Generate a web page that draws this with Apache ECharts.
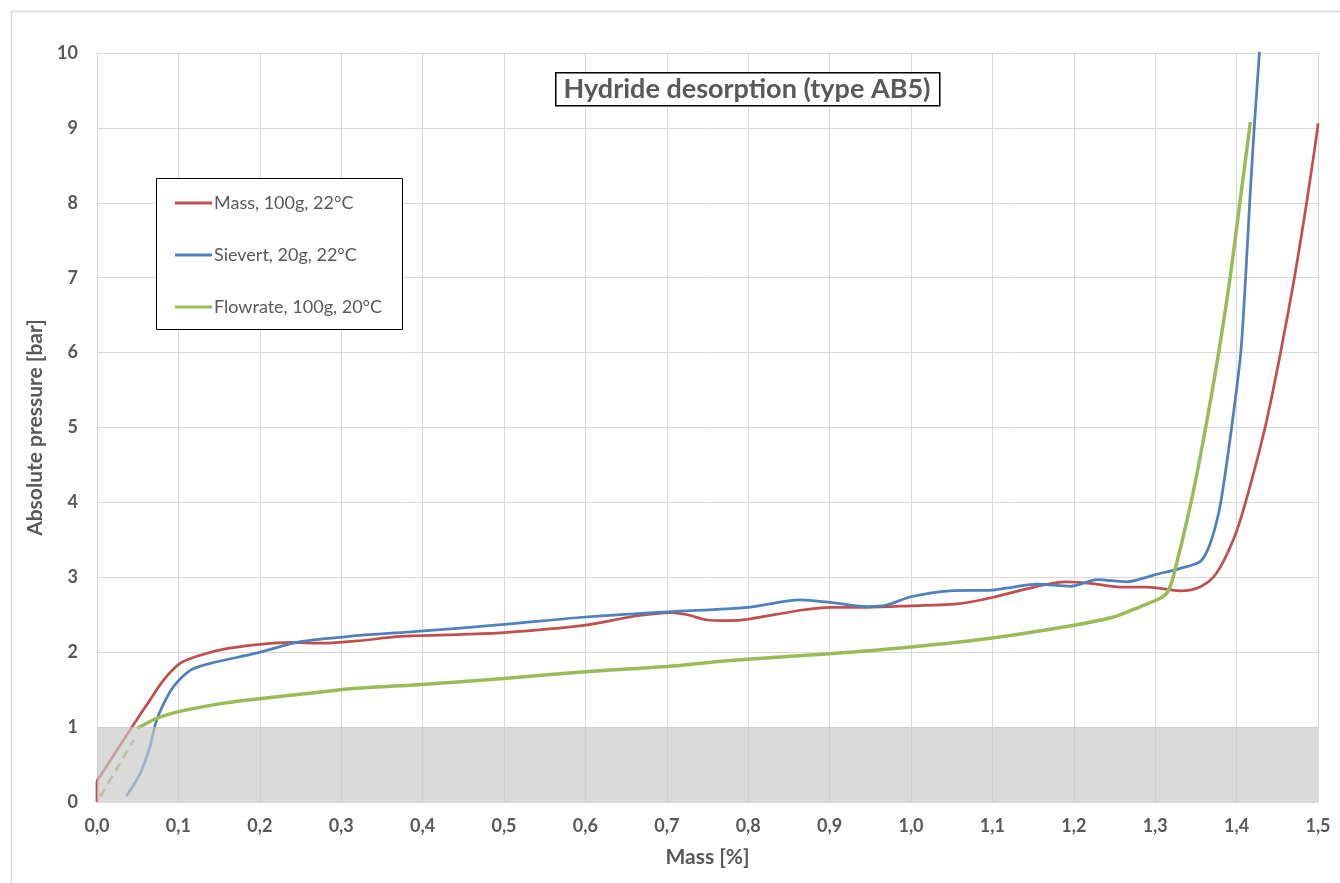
<!DOCTYPE html>
<html>
<head>
<meta charset="utf-8">
<script src="https://cdn.jsdelivr.net/npm/echarts@6/dist/echarts.min.js"></script>
<style>html,body{margin:0;padding:0;background:#fff;}#chart{width:1340px;height:883px;}</style>
</head>
<body>
<div id="chart"></div>
<script>
const titleText = 'Hydride desorption (type AB5)';
const xAxisName = 'Mass [%]';
const yAxisName = 'Absolute pressure [bar]';
const seriesNames = ['Mass, 100g, 22°C', 'Sievert, 20g, 22°C', 'Flowrate, 100g, 20°C'];
const seriesColors = ['#C0504D', '#4F81BD', '#9BBB59'];

const massData = [[0,0],[0,0.27],[0.006,0.38],[0.043,1.0],[0.065,1.36],[0.082,1.63],[0.102,1.85],[0.127,1.96],[0.156,2.04],[0.197,2.10],[0.237,2.13],[0.278,2.12],[0.319,2.15],[0.373,2.21],[0.43,2.23],[0.5,2.26],[0.6,2.36],[0.66,2.48],[0.705,2.53],[0.725,2.50],[0.75,2.43],[0.775,2.42],[0.80,2.44],[0.864,2.56],[0.90,2.60],[0.946,2.60],[1.0,2.62],[1.06,2.65],[1.10,2.73],[1.155,2.88],[1.19,2.94],[1.22,2.92],[1.257,2.87],[1.29,2.87],[1.331,2.82],[1.355,2.87],[1.375,3.05],[1.396,3.50],[1.411,4.0],[1.435,5.0],[1.454,6.0],[1.471,7.0],[1.486,8.0],[1.4996,9.0],[1.5,9.06]];

const sievertData = [[0.036,0.08],[0.053,0.38],[0.065,0.74],[0.072,1.05],[0.080,1.27],[0.094,1.54],[0.115,1.76],[0.139,1.85],[0.197,1.99],[0.25,2.14],[0.319,2.22],[0.385,2.27],[0.5,2.37],[0.6,2.47],[0.70,2.54],[0.80,2.60],[0.864,2.70],[0.905,2.66],[0.946,2.61],[0.97,2.63],[1.0,2.74],[1.048,2.82],[1.10,2.83],[1.126,2.87],[1.155,2.91],[1.196,2.88],[1.229,2.97],[1.265,2.94],[1.298,3.03],[1.331,3.12],[1.355,3.21],[1.365,3.38],[1.374,3.68],[1.381,4.03],[1.394,5.01],[1.405,5.99],[1.411,6.99],[1.416,7.99],[1.422,9.06],[1.428,10.0],[1.43,10.4]];

const flowData = [[0.049,0.98],[0.074,1.12],[0.102,1.21],[0.156,1.32],[0.2,1.38],[0.258,1.45],[0.319,1.52],[0.385,1.56],[0.5,1.65],[0.6,1.74],[0.70,1.81],[0.778,1.89],[0.9,1.98],[1.0,2.07],[1.1,2.19],[1.2,2.36],[1.249,2.47],[1.282,2.61],[1.306,2.72],[1.315,2.80],[1.322,3.0],[1.344,4.0],[1.362,5.0],[1.378,6.0],[1.392,7.0],[1.404,8.0],[1.416,9.0],[1.417,9.08]];

const flowDashData = [[0.004,0.07],[0.045,0.83]];

const bandRange = [0, 1];

const chart = echarts.init(document.getElementById('chart'), null, {renderer: 'canvas'});
const FONT = 'Lato';
const GRAY = '#595959';

chart.setOption({
  animation: false,
  backgroundColor: '#fff',
  grid: {left: 97, right: 22, top: 53, bottom: 81, containLabel: false},
  graphic: [
    {type: 'rect', left: 9, top: 9, shape: {x: 0, y: 0, width: 1360, height: 900}, style: {fill: 'none', stroke: '#d9d9d9', lineWidth: 1.5}, z: 0},
    {type: 'rect', left: 555, top: 72, shape: {x: 0, y: 0, width: 384, height: 33}, style: {fill: '#fff', stroke: '#000', lineWidth: 1.5}, z: 20},
    {type: 'text', x: 747, y: 89, style: {text: titleText, fill: GRAY, font: 'bold 27px ' + FONT, textAlign: 'center', textVerticalAlign: 'middle', verticalAlign: 'middle', align: 'center'}, z: 21},
    {type: 'rect', left: 156, top: 178, shape: {x: 0, y: 0, width: 246, height: 151}, style: {fill: '#fff', stroke: '#000', lineWidth: 1}, z: 20}
  ],
  legend: {
    orient: 'vertical',
    left: 156, top: 183,
    padding: [10, 10, 10, 19],
    icon: 'rect',
    itemWidth: 37, itemHeight: 3, itemGap: 32,
    z: 25,
    textStyle: {fontFamily: FONT, fontSize: 18, color: GRAY, lineHeight: 20, padding: [0, 0, 0, -3]},
    data: seriesNames
  },
  xAxis: {
    type: 'value', min: 0, max: 1.5, interval: 0.1,
    name: xAxisName, nameLocation: 'middle', nameGap: 45,
    nameTextStyle: {fontFamily: FONT, fontSize: 21, fontWeight: 'bold', color: GRAY},
    axisLine: {show: true, lineStyle: {color: '#d9d9d9', width: 1}},
    axisTick: {show: false},
    splitLine: {show: true, lineStyle: {color: '#d9d9d9', width: 1}},
    axisLabel: {margin: 15, fontFamily: FONT, fontSize: 18, fontWeight: 'bold', color: GRAY,
      formatter: v => v.toFixed(1).replace('.', ',')}
  },
  yAxis: {
    type: 'value', min: 0, max: 10, interval: 1,
    name: yAxisName, nameLocation: 'middle', nameGap: 46,
    nameTextStyle: {fontFamily: FONT, fontSize: 21, fontWeight: 'bold', color: GRAY},
    axisLine: {show: true, lineStyle: {color: '#d9d9d9', width: 1}},
    axisTick: {show: false},
    splitLine: {show: true, lineStyle: {color: '#d9d9d9', width: 1}},
    axisLabel: {margin: 19, fontFamily: FONT, fontSize: 18, fontWeight: 'bold', color: GRAY}
  },
  series: [
    {name: seriesNames[0], type: 'line', data: massData, symbol: 'none', smooth: 0.3, z: 3,
      color: seriesColors[0], lineStyle: {color: seriesColors[0], width: 2.75}},
    {name: seriesNames[1], type: 'line', data: sievertData, symbol: 'none', smooth: 0.3, z: 3,
      color: seriesColors[1], lineStyle: {color: seriesColors[1], width: 2.75}},
    {name: seriesNames[2], type: 'line', data: flowData, symbol: 'none', smooth: 0.3, z: 3,
      color: seriesColors[2], lineStyle: {color: seriesColors[2], width: 3.5}},
    {name: 'flowDash', type: 'line', data: flowDashData, symbol: 'none', z: 3,
      lineStyle: {color: seriesColors[2], width: 2.75, type: [9, 6]}},
    {name: 'band', type: 'line', data: [], z: 10,
      markArea: {silent: true, z: 10, itemStyle: {color: 'rgba(200,200,200,0.68)'},
        data: [[{yAxis: bandRange[0]}, {yAxis: bandRange[1]}]]}}
  ]
});
</script>
</body>
</html>
